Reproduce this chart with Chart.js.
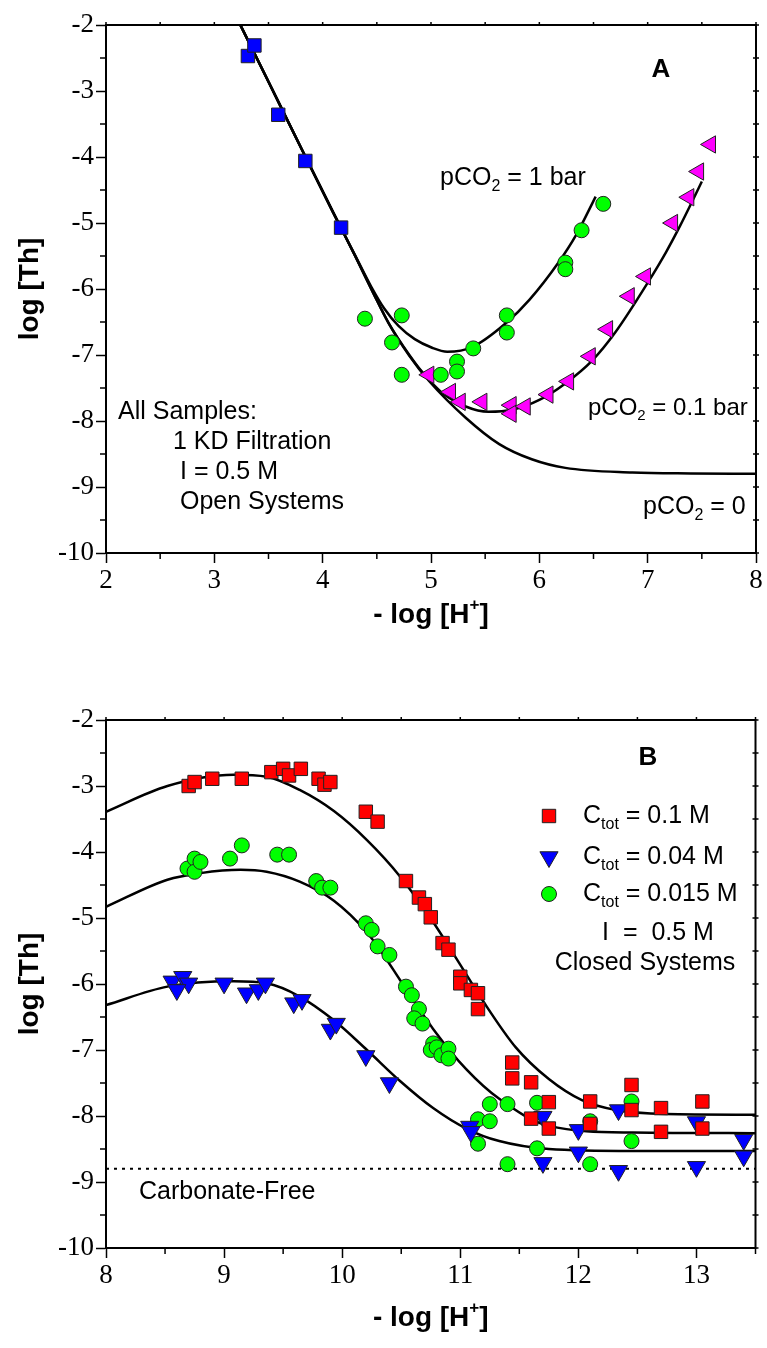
<!DOCTYPE html>
<html lang="en">
<head>
<meta charset="UTF-8" />
<title>log [Th] vs - log [H+]</title>
<script src="https://cdn.jsdelivr.net/npm/chart.js"></script>
<style>
  html, body { margin: 0; padding: 0; background: #fff; }
  .panel { position: absolute; left: 0; width: 767px; }
  #panelA { top: 0; height: 660px; }
  #panelB { top: 660px; height: 688px; }
</style>
</head>
<body>
<div class="panel" id="panelA"><canvas id="chartA"></canvas></div>
<div class="panel" id="panelB"><canvas id="chartB"></canvas></div>
<script>
// ---- Panel A (open systems) ----
const aTicksX = [2, 3, 4, 5, 6, 7, 8];
const aMinorX = [2.5, 3.5, 4.5, 5.5, 6.5, 7.5];
const aTicksY = [-2, -3, -4, -5, -6, -7, -8, -9, -10];
const aMinorY = [-2.5, -3.5, -4.5, -5.5, -6.5, -7.5, -8.5, -9.5];

const aSquareX = [3.31, 3.37, 3.59, 3.84, 4.17];
const aSquareY = [-2.47, -2.31, -3.36, -4.06, -5.07];

const aCircleX = [4.39, 4.64, 4.73, 4.73, 5.09, 5.24, 5.24, 5.39, 5.70, 5.70, 6.24, 6.24, 6.39, 6.59];
const aCircleY = [-6.45, -6.81, -6.40, -7.30, -7.30, -7.10, -7.25, -6.90, -6.40, -6.66, -5.60, -5.70, -5.11, -4.71];

const aTriX = [4.98, 5.18, 5.27, 5.47, 5.74, 5.74, 5.87, 6.08, 6.27, 6.47, 6.63, 6.83, 6.98, 7.23, 7.38, 7.47, 7.58];
const aTriY = [-7.30, -7.56, -7.71, -7.71, -7.76, -7.89, -7.78, -7.60, -7.40, -7.02, -6.61, -6.11, -5.81, -5.00, -4.61, -4.22, -3.81];

const fitZeroX = [3.24, 3.50, 3.80, 4.10, 4.30, 4.47, 4.61, 4.80, 4.98, 5.32, 5.63, 5.93, 6.24, 6.86, 7.40, 8.0];
const fitZeroY = [-2.0, -2.86, -3.86, -4.85, -5.50, -6.07, -6.52, -7.01, -7.39, -7.95, -8.35, -8.58, -8.71, -8.78, -8.795, -8.80];

const fitOneX = [3.24, 3.50, 3.80, 4.10, 4.30, 4.45, 4.57, 4.70, 4.85, 5.01, 5.15, 5.38, 5.69, 5.91, 6.18, 6.34, 6.52];
const fitOneY = [-2.0, -2.86, -3.86, -4.85, -5.49, -5.97, -6.30, -6.56, -6.76, -6.89, -6.95, -6.88, -6.52, -6.16, -5.59, -5.18, -4.60];

const fitTenthX = [3.24, 3.50, 3.80, 4.10, 4.30, 4.47, 4.61, 4.80, 4.92, 5.10, 5.32, 5.53, 5.75, 6.0, 6.24, 6.49, 6.70, 7.01, 7.17, 7.30, 7.40, 7.50];
const fitTenthY = [-2.0, -2.86, -3.86, -4.85, -5.50, -6.07, -6.52, -7.00, -7.26, -7.57, -7.78, -7.86, -7.83, -7.68, -7.43, -7.08, -6.66, -5.88, -5.44, -5.04, -4.71, -4.37];

// ---- Panel B (closed systems) ----
const bTicksX = [8, 9, 10, 11, 12, 13];
const bMinorX = [8.5, 9.5, 10.5, 11.5, 12.5, 13.5];
const bTicksY = [-2, -3, -4, -5, -6, -7, -8, -9, -10];
const bMinorY = [-2.5, -3.5, -4.5, -5.5, -6.5, -7.5, -8.5, -9.5];

const bSquareX = [8.70, 8.75, 8.90, 9.15, 9.40, 9.50, 9.55, 9.65, 9.80, 9.85, 9.90, 10.20, 10.30, 10.54, 10.65, 10.70, 10.75, 10.85, 10.90, 11.00, 11.00, 11.09, 11.15, 11.15, 11.44, 11.44, 11.60, 11.60, 11.75, 11.75, 12.10, 12.10, 12.45, 12.45, 12.70, 12.70, 13.05, 13.05];
const bSquareY = [-3.00, -2.94, -2.89, -2.89, -2.79, -2.74, -2.84, -2.74, -2.89, -2.98, -2.94, -3.39, -3.54, -4.44, -4.69, -4.79, -4.99, -5.38, -5.48, -5.89, -5.99, -6.09, -6.14, -6.38, -7.19, -7.43, -7.49, -8.04, -7.79, -8.19, -7.78, -8.12, -7.53, -7.91, -7.88, -8.24, -7.78, -8.19];

const bTriX = [8.56, 8.65, 8.70, 8.60, 9.00, 9.19, 9.29, 9.35, 9.59, 9.66, 9.90, 9.95, 10.20, 10.40, 11.08, 11.09, 11.70, 11.70, 12.00, 12.00, 12.34, 12.34, 13.00, 13.00, 13.40, 13.40];
const bTriY = [-5.96, -5.89, -5.99, -6.09, -5.99, -6.14, -6.09, -5.99, -6.29, -6.24, -6.69, -6.60, -7.09, -7.50, -8.16, -8.24, -8.01, -8.71, -8.21, -8.55, -7.91, -8.83, -8.09, -8.77, -8.36, -8.61];

const bCircleX = [8.69, 8.75, 8.75, 8.80, 9.05, 9.15, 9.45, 9.55, 9.78, 9.83, 9.90, 10.20, 10.25, 10.30, 10.40, 10.54, 10.59, 10.65, 10.61, 10.68, 10.77, 10.75, 10.80, 10.84, 10.90, 10.90, 11.25, 11.15, 11.25, 11.15, 11.40, 11.40, 11.65, 11.65, 12.10, 12.10, 12.45, 12.45];
const bCircleY = [-4.25, -4.10, -4.30, -4.15, -4.10, -3.90, -4.04, -4.04, -4.44, -4.54, -4.54, -5.08, -5.18, -5.43, -5.56, -6.04, -6.17, -6.38, -6.52, -6.60, -6.90, -7.00, -6.96, -7.08, -6.98, -7.13, -7.82, -8.05, -8.08, -8.42, -7.82, -8.73, -7.80, -8.49, -8.08, -8.73, -7.78, -8.38];

const fitHighX = [8.0, 8.52, 9.08, 9.36, 9.64, 9.93, 10.21, 10.49, 10.77, 10.99, 11.19, 11.47, 11.75, 12.03, 12.32, 12.74, 13.5];
const fitHighY = [-3.39, -3.00, -2.83, -2.86, -3.06, -3.38, -3.82, -4.37, -5.06, -5.68, -6.25, -6.96, -7.44, -7.76, -7.91, -7.97, -7.98];

const fitMidX = [8.0, 8.52, 8.80, 9.14, 9.36, 9.64, 9.93, 10.21, 10.35, 10.49, 10.77, 11.05, 11.33, 11.75, 12.46, 13.5];
const fitMidY = [-4.83, -4.42, -4.32, -4.27, -4.30, -4.45, -4.74, -5.22, -5.56, -5.94, -6.68, -7.29, -7.74, -8.15, -8.25, -8.26];

const fitLowX = [8.0, 8.52, 9.08, 9.36, 9.64, 9.93, 10.21, 10.49, 10.77, 11.05, 11.33, 11.75, 12.46, 13.5];
const fitLowY = [-6.32, -6.04, -5.96, -5.99, -6.19, -6.55, -7.00, -7.47, -7.88, -8.19, -8.38, -8.50, -8.53, -8.53];

const carbFreeX = [8, 13.5];
const carbFreeY = [-8.8, -8.8];

// ---- helpers ----
const fontSans = '"Liberation Sans", Arial, Helvetica, sans-serif';
const fontSerif = '"Liberation Serif", "Times New Roman", serif';

function pts(xs, ys) {
  return xs.map((x, i) => ({ x: x, y: ys[i] }));
}

function markers(xs, ys, style, color, radius, rotation) {
  return {
    data: pts(xs, ys),
    pointStyle: style,
    rotation: rotation || 0,
    pointRadius: radius,
    pointBackgroundColor: color,
    pointBorderColor: '#222',
    pointBorderWidth: 1,
    showLine: false,
    order: 1,
  };
}

function curve(xs, ys, dash) {
  return {
    type: 'line',
    data: pts(xs, ys),
    borderColor: '#000',
    borderWidth: dash ? 2 : 2.5,
    borderDash: dash || [],
    pointRadius: 0,
    fill: false,
    cubicInterpolationMode: 'monotone',
    order: 2,
  };
}

function axis(min, max, ticks, fitSize, isX) {
  return {
    type: 'linear',
    min: min,
    max: max,
    afterBuildTicks: s => { s.ticks = ticks.map(v => ({ value: v })); },
    afterFit: s => { if (isX) s.height = fitSize; else s.width = fitSize; },
    ticks: {
      font: { family: fontSerif, size: 27 },
      color: '#000',
      padding: 2,
      maxRotation: 0,
      autoSkip: false,
      callback: v => String(v),
    },
    grid: { drawOnChartArea: false, drawTicks: true, tickLength: 10, tickWidth: 1.5, tickColor: '#000' },
    border: { display: true, color: '#000', width: 2 },
  };
}

// text with sub / superscripts; parts = [{t, sub, sup, bold}]
function drawParts(ctx, parts, x, y, size, align) {
  const fontFor = p => (p.bold ? 'bold ' : '') + (p.sub || p.sup ? Math.round(size * 0.62) : size) + 'px ' + fontSans;
  let total = 0;
  parts.forEach(p => { ctx.font = fontFor(p); total += ctx.measureText(p.t).width; });
  let cx = align === 'center' ? x - total / 2 : x;
  parts.forEach(p => {
    ctx.font = fontFor(p);
    const dy = p.sub ? size * 0.34 : p.sup ? -size * 0.36 : 0;
    ctx.fillText(p.t, cx, y + dy);
    cx += ctx.measureText(p.t).width;
  });
}

function framePlugin(minorX, minorY, titleY, texts, legend) {
  return {
    id: 'frame',
    afterDraw(chart) {
      const ctx = chart.ctx;
      const a = chart.chartArea;
      const sx = chart.scales.x, sy = chart.scales.y;
      ctx.save();
      ctx.strokeStyle = '#000';
      ctx.lineWidth = 2;
      ctx.strokeRect(a.left, a.top, a.right - a.left, a.bottom - a.top);

      // minor ticks outside, small ticks on top / right
      ctx.lineWidth = 1.5;
      ctx.beginPath();
      minorX.forEach(v => {
        const px = sx.getPixelForValue(v);
        ctx.moveTo(px, a.bottom); ctx.lineTo(px, a.bottom + 6);
      });
      minorY.forEach(v => {
        const py = sy.getPixelForValue(v);
        ctx.moveTo(a.left, py); ctx.lineTo(a.left - 6, py);
      });
      sx.ticks.map(t => t.value).concat(minorX).forEach(v => {
        const px = sx.getPixelForValue(v);
        ctx.moveTo(px, a.top); ctx.lineTo(px, a.top - 3);
      });
      sy.ticks.map(t => t.value).concat(minorY).forEach(v => {
        const py = sy.getPixelForValue(v);
        ctx.moveTo(a.right - 3, py); ctx.lineTo(a.right + 3, py);
      });
      ctx.stroke();

      ctx.fillStyle = '#000';
      ctx.textBaseline = 'middle';
      ctx.textAlign = 'left';

      // axis titles
      const cx = (a.left + a.right) / 2;
      drawParts(ctx, [{ t: '- log [H', bold: 1 }, { t: '+', sup: 1, bold: 1 }, { t: ']', bold: 1 }], cx, titleY, 28, 'center');
      ctx.save();
      ctx.translate(30, (a.top + a.bottom) / 2);
      ctx.rotate(-Math.PI / 2);
      drawParts(ctx, [{ t: 'log [Th]', bold: 1 }], 0, 0, 28, 'center');
      ctx.restore();

      texts.forEach(tx => drawParts(ctx, tx.parts, tx.x, tx.y, tx.size || 25, tx.align));

      (legend || []).forEach(lg => {
        ctx.beginPath();
        ctx.fillStyle = lg.color;
        ctx.strokeStyle = '#222';
        ctx.lineWidth = 1;
        if (lg.shape === 'rect') {
          ctx.rect(lg.mx - 6.7, lg.y - 6.7, 13.4, 13.4);
        } else if (lg.shape === 'down') {
          const r = 10.5;
          ctx.moveTo(lg.mx, lg.y + r);
          ctx.lineTo(lg.mx - r * 0.866, lg.y - r / 2);
          ctx.lineTo(lg.mx + r * 0.866, lg.y - r / 2);
          ctx.closePath();
        } else {
          ctx.arc(lg.mx, lg.y, 7.5, 0, Math.PI * 2);
        }
        ctx.fill();
        ctx.stroke();
        ctx.fillStyle = '#000';
        drawParts(ctx, lg.parts, lg.tx, lg.y, 25);
      });
      ctx.restore();
    },
  };
}

const baseOptions = (padTop, xAxis, yAxis) => ({
  responsive: true,
  maintainAspectRatio: false,
  animation: false,
  layout: { padding: { top: padTop, right: 10, left: 0, bottom: 0 } },
  plugins: { legend: { display: false }, tooltip: { enabled: false } },
  scales: { x: xAxis, y: yAxis },
});

// ---- chart A ----
const textsA = [
  { parts: [{ t: 'A', bold: 1 }], x: 661, y: 70, size: 26, align: 'center' },
  { parts: [{ t: 'pCO' }, { t: '2', sub: 1 }, { t: ' = 1 bar' }], x: 440, y: 178 },
  { parts: [{ t: 'pCO' }, { t: '2', sub: 1 }, { t: ' = 0.1 bar' }], x: 588, y: 408, size: 24 },
  { parts: [{ t: 'pCO' }, { t: '2', sub: 1 }, { t: ' = 0' }], x: 643, y: 507 },
  { parts: [{ t: 'All Samples:' }], x: 118, y: 412 },
  { parts: [{ t: '1 KD Filtration' }], x: 173, y: 442 },
  { parts: [{ t: 'I = 0.5 M' }], x: 180, y: 472 },
  { parts: [{ t: 'Open Systems' }], x: 180, y: 502 },
];

new Chart(document.getElementById('chartA'), {
  type: 'scatter',
  data: {
    datasets: [
      markers(aSquareX, aSquareY, 'rect', '#0000ff', 9.5),
      markers(aCircleX, aCircleY, 'circle', '#00ff00', 7.5),
      markers(aTriX, aTriY, 'triangle', '#ff00ff', 10, -90),
      curve(fitZeroX, fitZeroY),
      curve(fitOneX, fitOneY),
      curve(fitTenthX, fitTenthY),
    ],
  },
  options: baseOptions(25, axis(2, 8, aTicksX, 107, true), axis(-10, -2, aTicksY, 106, false)),
  plugins: [framePlugin(aMinorX, aMinorY, 615, textsA)],
});

// ---- chart B ----
const textsB = [
  { parts: [{ t: 'B', bold: 1 }], x: 648, y: 98, size: 26, align: 'center' },
  { parts: [{ t: 'I  =  0.5 M' }], x: 658, y: 273, align: 'center' },
  { parts: [{ t: 'Closed Systems' }], x: 645, y: 303, align: 'center' },
  { parts: [{ t: 'Carbonate-Free' }], x: 139, y: 532 },
];
const legendB = [
  { shape: 'rect', color: '#ff0000', mx: 549, tx: 583, y: 156, parts: [{ t: 'C' }, { t: 'tot', sub: 1 }, { t: ' = 0.1 M' }] },
  { shape: 'down', color: '#0000ff', mx: 549, tx: 583, y: 197, parts: [{ t: 'C' }, { t: 'tot', sub: 1 }, { t: ' = 0.04 M' }] },
  { shape: 'circle', color: '#00ff00', mx: 549, tx: 583, y: 234, parts: [{ t: 'C' }, { t: 'tot', sub: 1 }, { t: ' = 0.015 M' }] },
];

new Chart(document.getElementById('chartB'), {
  type: 'scatter',
  data: {
    datasets: [
      markers(bSquareX, bSquareY, 'rect', '#ff0000', 9.5),
      markers(bTriX, bTriY, 'triangle', '#0000ff', 10.5, 180),
      markers(bCircleX, bCircleY, 'circle', '#00ff00', 7.5),
      curve(fitHighX, fitHighY),
      curve(fitMidX, fitMidY),
      curve(fitLowX, fitLowY),
      curve(carbFreeX, carbFreeY, [3, 5]),
    ],
  },
  options: baseOptions(60, axis(8, 13.5, bTicksX, 100, true), axis(-10, -2, bTicksY, 106, false)),
  plugins: [framePlugin(bMinorX, bMinorY, 658, textsB, legendB)],
});
</script>
</body>
</html>
